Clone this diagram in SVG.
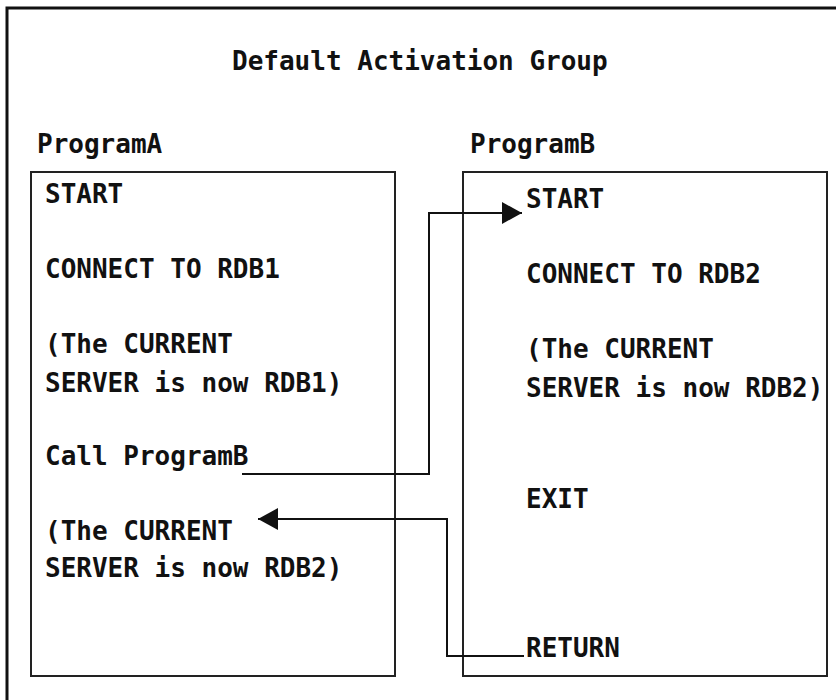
<svg xmlns="http://www.w3.org/2000/svg" width="836" height="700" viewBox="0 0 836 700">
<style>
text{font-family:"DejaVu Sans Mono","Liberation Mono",monospace;font-weight:bold;font-size:26px;fill:#111}
.box{fill:none;stroke:#222;stroke-width:2}
.ln{fill:none;stroke:#111;stroke-width:2}
</style>
<defs>
<marker id="ah" markerWidth="10" markerHeight="10" refX="9" refY="5" orient="auto" markerUnits="userSpaceOnUse" viewBox="0 0 10 10">
<path d="M0,0 L10,5 L0,10 Z" fill="#111"/>
</marker>
<marker id="ah2" markerWidth="20" markerHeight="22" refX="20" refY="11" orient="auto" markerUnits="userSpaceOnUse">
<path d="M0,0 L20,11 L0,22 Z" fill="#111"/>
</marker>
</defs>
<rect width="836" height="700" fill="#fff"/>
<path d="M7,710 V8 H846" fill="none" stroke="#111" stroke-width="3"/>
<g id="title"><text x="232" y="70">Default Activation Group</text></g>
<g id="programA">
<text x="37" y="153">ProgramA</text>
<rect class="box" x="31" y="172" width="364" height="504"/>
<text x="45" y="203">START</text>
<text x="45" y="278">CONNECT TO RDB1</text>
<text x="45" y="353">(The CURRENT</text>
<text x="45" y="392">SERVER is now RDB1)</text>
<text x="45" y="465">Call ProgramB</text>
<text x="45" y="540">(The CURRENT</text>
<text x="45" y="577">SERVER is now RDB2)</text>
</g>
<g id="programB">
<text x="470" y="153">ProgramB</text>
<rect class="box" x="463" y="172" width="364" height="504"/>
<text x="526" y="208">START</text>
<text x="526" y="283">CONNECT TO RDB2</text>
<text x="526" y="358">(The CURRENT</text>
<text x="526" y="397">SERVER is now RDB2)</text>
<text x="526" y="508">EXIT</text>
<text x="526" y="657">RETURN</text>
</g>
<g id="connectors">
<polyline class="ln" points="242,474 429,474 429,213 522,213" marker-end="url(#ah2)"/>
<polyline class="ln" points="524,656 447,656 447,519 258,519" marker-end="url(#ah2)"/>
</g>
</svg>
